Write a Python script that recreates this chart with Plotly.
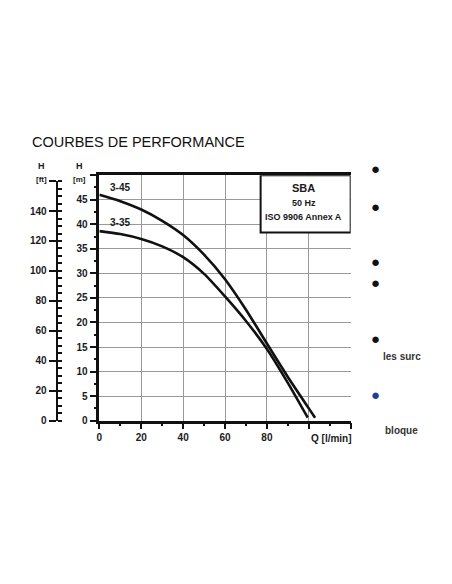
import plotly.graph_objects as go

# ---- data ----
q_345 = [0, 10, 20, 30, 40, 50, 60, 70, 80, 90, 100, 103]
h_345 = [46.0, 44.7, 43.0, 40.7, 37.8, 33.8, 28.8, 22.6, 15.7, 8.9, 2.5, 0.6]
q_335 = [0, 10, 20, 30, 40, 50, 60, 70, 80, 90, 99.5]
h_335 = [38.6, 38.0, 37.0, 35.5, 33.3, 29.9, 25.3, 20.3, 14.6, 7.7, 0.6]
x_ticks = [0, 20, 40, 60, 80, 100, 120]
x_ticktext = ["0", "20", "40", "60", "80", "", ""]
m_ticks = [0, 5, 10, 15, 20, 25, 30, 35, 40, 45, 50]
m_ticktext = ["0", "5", "10", "15", "20", "25", "30", "35", "40", "45", ""]
ft_ticks = [0, 20, 40, 60, 80, 100, 120, 140, 160]
ft_ticktext = ["0", "20", "40", "60", "80", "100", "120", "140", ""]
curve_names = ["3-45", "3-35"]
box_lines = ["SBA", "50 Hz", "ISO 9906 Annex A"]

W, H = 452, 584
def px(x): return x / W
def py(y): return (H - y) / H

FONT = "Liberation Sans, Arial, sans-serif"
TXT = "#1a1a1a"

def b(lst):
    return [f"<b>{t}</b>" if t else "" for t in lst]

fig = go.Figure()
for q, h, n in [(q_345, h_345, curve_names[0]), (q_335, h_335, curve_names[1])]:
    fig.add_trace(go.Scatter(x=q, y=h, mode="lines", name=n,
                             line=dict(color="#111111", width=2.6, shape="spline", smoothing=0.7),
                             hoverinfo="skip", showlegend=False))
# invisible trace for ft axis
fig.add_trace(go.Scatter(x=[0], y=[0], xaxis="x2", yaxis="y2", mode="markers",
                         marker=dict(opacity=0), showlegend=False, hoverinfo="skip"))

tf = dict(size=10, family=FONT, color=TXT)
fig.update_layout(
    width=W, height=H, margin=dict(l=0, r=0, t=0, b=0),
    paper_bgcolor="white", plot_bgcolor="white",
    font=dict(family=FONT, color=TXT, size=10),
    xaxis=dict(domain=[px(97), px(350)], range=[0, 120], tickvals=x_ticks, ticktext=b(x_ticktext),
               showgrid=True, gridcolor="#9a9a9a", gridwidth=1, zeroline=False,
               showline=True, linecolor="#111", linewidth=2.5, mirror=True,
               ticks="outside", ticklen=6, tickwidth=1.5, tickcolor="#111",
               minor=dict(dtick=10, tick0=0, ticks="outside", ticklen=3, tickcolor="#111", showgrid=False),
               tickfont=tf, fixedrange=True),
    yaxis=dict(domain=[py(425), py(177)], range=[0, 50], tickvals=m_ticks, ticktext=b(m_ticktext),
               showgrid=True, gridcolor="#9a9a9a", gridwidth=1, zeroline=False,
               showline=True, linecolor="#111", linewidth=2.5,
               ticks="outside", ticklen=7, tickwidth=1.5, tickcolor="#111",
               minor=dict(dtick=2.5, tick0=0, ticks="outside", ticklen=3, tickcolor="#111", showgrid=False),
               tickfont=tf, fixedrange=True),
    xaxis2=dict(domain=[px(55), px(56)], range=[0, 1], visible=False, anchor="y2"),
    yaxis2=dict(domain=[py(425), py(183)], range=[0, 160], anchor="x2", side="left",
                tickvals=ft_ticks, ticktext=b(ft_ticktext), showgrid=False, zeroline=False,
                showline=True, linecolor="#111", linewidth=2,
                ticks="outside", ticklen=7, tickwidth=1.5, tickcolor="#111",
                minor=dict(dtick=5, tick0=0, ticks="inside", ticklen=4, tickcolor="#111"),
                tickfont=tf, fixedrange=True),
)

def ann(x, y, text, size=10, color=TXT, xanchor="center", ref="paper"):
    fig.add_annotation(x=x, y=y, xref=ref, yref=ref, text=text, showarrow=False,
                       xanchor=xanchor, yanchor="middle",
                       font=dict(size=size, family=FONT, color=color))

# info box
fig.add_shape(type="rect", xref="x", yref="y", x0=77, x1=120, y0=38.3, y1=50,
              fillcolor="white", line=dict(color="#111", width=2), layer="above")
for txt, yv, sz in [(box_lines[0], 47.4, 11), (box_lines[1], 44.4, 9), (box_lines[2], 41.5, 9)]:
    fig.add_annotation(x=97.5, y=yv, xref="x", yref="y", text=f"<b>{txt}</b>", showarrow=False,
                       xanchor="center", yanchor="middle",
                       font=dict(size=sz, family=FONT, color=TXT))

# curve labels
for name, yv in [(curve_names[0], 47.4), (curve_names[1], 40.3)]:
    fig.add_annotation(x=10, y=yv, xref="x", yref="y", text=f"<b>{name}</b>", showarrow=False,
                       xanchor="center", yanchor="middle", font=dict(size=10, family=FONT, color=TXT))

# axis titles
ann(px(331), py(443), "<b>Q [l/min]</b>")
ann(px(39), py(168), "<b>H</b>", size=9)
ann(px(77), py(168), "<b>H</b>", size=9)
ann(px(39), py(181), "<b>[ft]</b>", size=8)
ann(px(77), py(181), "<b>[m]</b>", size=8)

# title
ann(px(136), py(143), "COURBES DE PERFORMANCE", size=14.5, color="#111")

# right side fragments
for yy, col in [(170, "#111"), (209, "#111"), (264, "#111"), (285, "#111"), (342, "#111"), (399, "#1f3d99")]:
    ann(px(375), py(yy), "●", size=15, color=col)
ann(px(402), py(360), "<b>les surc</b>", color="#333")
ann(px(401), py(435), "<b>bloque</b>", color="#333")

fig.write_html("out.html", config={"displayModeBar": False})
